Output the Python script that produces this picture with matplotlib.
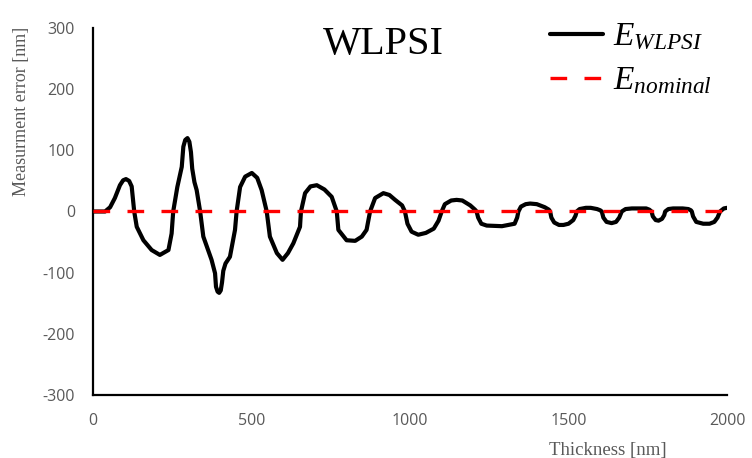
import matplotlib
matplotlib.use("Agg")
import matplotlib.pyplot as plt

# Data
thickness = [0, 38, 54, 69, 85, 95, 104, 114, 122, 130, 138, 159, 185, 211, 238, 248, 253,
             266, 280, 285, 291, 298, 304, 309, 313, 320, 327, 338, 348, 374, 385, 388, 393, 398,
             403, 407, 411, 418, 432, 448, 453, 464, 480, 501, 518, 532, 548, 558, 580, 598,
             615, 632, 653, 656, 669, 686, 706, 730, 753, 769, 774, 800, 827, 848, 863, 874,
             890, 916, 935, 953, 975, 984, 992, 1005, 1026,
             1050, 1075, 1090, 1100, 1110, 1130, 1147, 1165, 1190, 1205, 1210, 1215, 1225, 1242,
             1290, 1330, 1338, 1342, 1350, 1365, 1379, 1400, 1425, 1438, 1442, 1446, 1455, 1470,
             1484, 1500, 1515, 1522, 1526, 1535, 1555, 1570, 1590, 1600, 1605, 1610, 1620, 1636,
             1650, 1660, 1665, 1668, 1680, 1700, 1720, 1745, 1755, 1762, 1766, 1775, 1784, 1795,
             1802, 1805, 1815, 1830, 1841, 1860, 1878, 1886, 1889, 1893, 1903, 1925, 1945, 1960,
             1970, 1978, 1990, 2000]
e_wlpsi = [0, 0, 7, 22, 43, 51, 53, 50, 41, 0, -25, -47, -63, -71, -63, -36, 0,
           40, 73, 106, 117, 120, 114, 97, 70, 48, 35, 0, -41, -79, -101, -123, -131, -133,
           -129, -116, -97, -85, -74, -30, 0, 40, 57, 63, 55, 35, 0, -41, -68, -79,
           -68, -52, -25, 0, 30, 41, 43, 36, 24, 0, -30, -47, -48, -41, -30, 0,
           22, 30, 27, 19, 10, 0, -20, -33, -38,
           -35, -28, -15, 0, 12, 18, 19, 18, 10, 3, 0, -10, -20, -23,
           -24, -20, -10, 0, 8, 12, 13, 12, 7, 3, 0, -10, -18, -22,
           -22, -20, -14, -7, 0, 4, 6, 6, 4, 2, 0, -10, -17, -19,
           -17, -10, -4, 0, 4, 5, 5, 5, 3, 0, -8, -14, -15, -12,
           -6, 0, 4, 5, 5, 5, 4, 2, 0, -8, -17, -20, -20, -17,
           -10, 0, 5, 6]
nominal_x = [0, 2000]
nominal_y = [0, 0]

x_ticks = [0, 500, 1000, 1500, 2000]
y_ticks = [-300, -200, -100, 0, 100, 200, 300]

plt.rcParams['mathtext.fontset'] = 'custom'
plt.rcParams['mathtext.rm'] = 'Liberation Serif'
plt.rcParams['mathtext.it'] = 'Liberation Serif:italic'
plt.rcParams['axes.unicode_minus'] = False

gray = '#595959'
fig = plt.figure(figsize=(7.52, 4.58), dpi=100)
ax = fig.add_axes([93/752, 63/458, 634/752, 367/458])

ax.plot(thickness, e_wlpsi, color='black', lw=3.0, solid_joinstyle='round',
        solid_capstyle='round', label=r'$E_{WLPSI}$', zorder=2)
ax.plot(nominal_x, nominal_y, color='#ff0000', lw=2.4, dashes=(5.0, 5.2),
        label=r'$E_{nominal}$', zorder=3)

ax.set_xlim(0, 2000)
ax.set_ylim(-300, 300)
ax.set_xticks(x_ticks)
ax.set_yticks(y_ticks)
ax.tick_params(length=0, pad=13, labelsize=11.5, labelcolor=gray)
for lab in ax.get_xticklabels() + ax.get_yticklabels():
    lab.set_family('Open Sans')

for s in ['top', 'right']:
    ax.spines[s].set_visible(False)
for s in ['left', 'bottom']:
    ax.spines[s].set_linewidth(1.6)
    ax.spines[s].set_color('black')

ax.set_xlabel('Thickness [nm]', family='Liberation Serif', fontsize=13.5, color=gray)
ax.xaxis.set_label_coords(0.812, -0.128)
ax.set_ylabel('Measurment error [nm]', family='Liberation Serif', fontsize=13, color=gray)
ax.yaxis.set_label_coords(-0.100, 0.774)

ax.text(0.458, 0.955, 'WLPSI', transform=ax.transAxes, family='Liberation Serif',
        fontsize=29, ha='center', va='center', color='black')

leg = ax.legend(loc='upper left', bbox_to_anchor=(533/752, 1 - 3/458),
                bbox_transform=fig.transFigure, frameon=False, fontsize=24,
                handlelength=1.6, handletextpad=0.3, labelspacing=0.32,
                borderpad=0.0)

fig.savefig('out.png', dpi=100)
